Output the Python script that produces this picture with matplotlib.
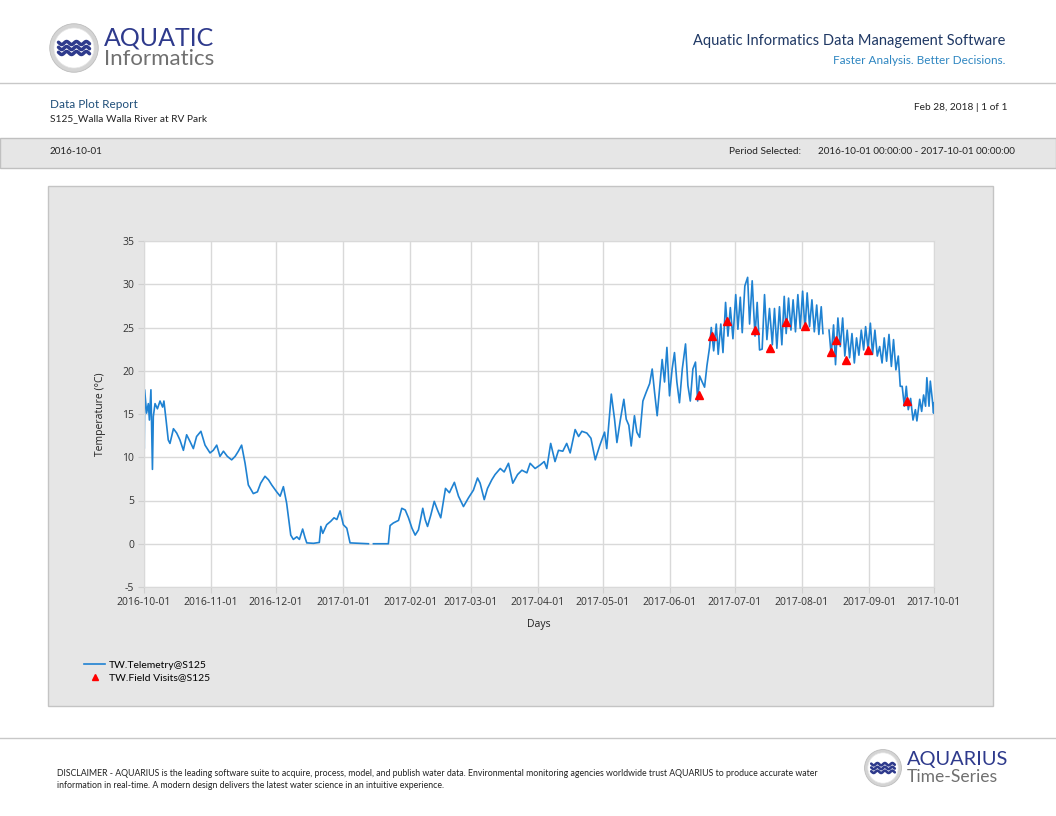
import numpy as np
import matplotlib
matplotlib.use("Agg")
import matplotlib.pyplot as plt
import matplotlib.dates as mdates
from matplotlib.patches import Rectangle, Circle
from matplotlib.lines import Line2D

plt.rcParams['font.family'] = ['Lato', 'DejaVu Sans']
plt.rcParams['axes.unicode_minus'] = False

W, H = 1056, 816
START = '2016-10-01'

# telemetry trace, days after 2016-10-01, three pieces split by data gaps
seg1_day = [0, 0.1, 0.3, 1.2, 2, 2.5, 3.2, 3.9, 4.3, 5.1, 6.2, 7.4, 8.6, 9.2, 10.2, 11.2,
            12.0, 13.6, 15.1, 16.6, 18.2, 19.7, 21.3, 22.8, 24.3, 26.3, 28.2, 30.5, 32,
            33.6, 35.1, 36.7, 38.5, 40.5, 42.1, 43.6, 45.1, 46.7, 48.2, 50.5, 52.4, 53.9,
            55.9, 57.5, 59, 61.3, 62.9, 64.4, 65.9, 67.8, 69, 70.6, 71.8, 73.3, 74.4,
            75.2, 78.3, 81, 81.7, 82.6, 84.4, 86.3, 87.8, 89.1, 90.6, 92.1, 93.7, 95.2,
            103.7]
seg1_temp = [14.2, 11.0, 17.8, 15.1, 16.2, 14.3, 17.8, 8.6, 14.7, 16.2, 15.6, 16.5, 15.8,
             16.5, 14.3, 12.0, 11.6, 13.3, 12.8, 12.0, 10.8, 12.6, 11.8, 11.0, 12.4, 13.0,
             11.4, 10.5, 10.8, 11.4, 10.1, 10.7, 10.1, 9.7, 10.1, 10.7, 11.4, 9.3, 6.8,
             5.8, 6.0, 7.0, 7.8, 7.4, 6.8, 6.0, 5.5, 6.6, 4.7, 1.0, 0.5, 0.8, 0.5, 1.7,
             0.7, 0.1, 0.05, 0.15, 2.0, 1.2, 2.2, 2.6, 3.0, 2.8, 3.8, 2.2, 1.8, 0.1, 0.0]

seg2_day = [106, 112.9, 113.7, 115.2, 117.6, 119.1, 120.7, 122.2, 123.8, 125.3, 126.8,
            128.8, 129.9, 131, 132.5, 134.1, 135.6, 137.1, 139.3, 141.1, 143.4, 145.3,
            147.6, 149.9, 152.2, 154.1, 155.3, 157.2, 158.7, 160.7, 162.2, 164.6, 166.4,
            168.4, 170.4, 172.6, 174.6, 176.9, 178.4, 180.7, 183.0, 184.9, 186.1, 187.9,
            189.9, 191.5, 193.5, 195.3, 196.9, 199.2, 200.8, 202.3, 204.6, 206.5, 208.5,
            210.5, 212.8, 213.8, 215.9, 217.4, 218.5, 220, 221.7, 222.8, 224, 225.1,
            226.6, 227.7, 229, 230.5, 232, 233.6, 234.8, 235.9, 237.1, 238.2, 239.4,
            240.5, 241.6, 242.8, 244, 245.1, 246.2, 247.4, 248.7, 250.2, 251.3, 252.4,
            253.6, 254.8, 255.8, 256.7, 257.9, 259, 260.1, 261.3, 262.1, 263.2, 264.4,
            265.3, 266.5, 267.5, 268.7, 269.8, 270.9, 272.1, 273.4, 274.4, 275.5, 276.4,
            277.6, 278.9, 279.8, 281, 282.3, 283.3, 284.4, 285.6, 286.7, 287.8, 289,
            290.3, 291.3, 292.4, 293.6, 294.7, 295.8, 296.7, 297.8, 298.9, 299.9, 301,
            302.1, 303.2, 304.3, 305.4, 306.4, 307.5, 308.6, 309.7, 310.8, 311.8, 312.9,
            313.7]
seg2_temp = [0, 0, 2.1, 2.4, 2.7, 4.1, 3.9, 3.0, 1.8, 1.0, 1.6, 4.1, 2.8, 2.0, 3.3, 4.9,
             3.9, 3.0, 6.4, 5.9, 7.1, 5.5, 4.3, 5.3, 6.2, 7.6, 7.0, 5.1, 6.4, 7.4, 8.0,
             8.7, 8.3, 9.3, 7.0, 8.0, 8.5, 8.2, 9.3, 8.7, 9.1, 9.5, 8.7, 11.6, 9.5, 10.8,
             10.7, 11.6, 10.5, 13.2, 12.4, 13.0, 12.8, 12.2, 9.7, 11.3, 12.9, 11.0, 17.3,
             14.4, 11.7, 14.2, 16.7, 14.4, 13.7, 11.3, 14.8, 12.9, 12.3, 16.5, 17.5, 18.5,
             20.2, 17.5, 14.8, 17.9, 21.3, 18.7, 22.7, 17.1, 20.2, 22.1, 18.7, 16.3, 20.2,
             23.1, 18.3, 16.5, 20.2, 21.0, 16.5, 19.4, 18.7, 18.1, 20.6, 22.7, 25.0, 22.3,
             25.4, 21.9, 25.4, 22.1, 27.9, 24.0, 27.3, 23.7, 28.8, 24.8, 28.5, 24.4, 29.8,
             30.8, 25.4, 30.4, 24.0, 27.9, 22.4, 22.5, 28.8, 23.6, 27.2, 23.0, 27.2,
             22.6, 27.4, 23.0, 28.6, 24.3, 28.4, 24.7, 28.2, 24.5, 28.8, 24.9, 29.2, 24.7,
             29.0, 25.1, 28.2, 24.5, 27.6, 24.2, 27.4, 24.3]

seg3_day = [316.5, 317.5, 318.6, 319.5, 320.6, 321.7, 322.8, 323.8, 324.9, 326, 327.1,
            328.2, 329.2, 330.3, 331.4, 332.5, 333.4, 334.5, 335.6, 336.6, 337.7, 338.8,
            339.9, 341, 342, 343.1, 344.2, 345.3, 346.3, 347.4, 348.5, 349.4, 350.3,
            351.3, 352.2, 353.1, 354.2, 355.3, 356.4, 357.1, 358.4, 359.3, 360.2, 361.1,
            361.7, 362.7, 363.3, 364.2, 364.8, 365]
seg3_temp = [24.7, 21.8, 25.3, 20.7, 26.1, 22.8, 26.1, 21.7, 24.7, 21.5, 24.3, 20.9, 23.8,
             21.8, 24.7, 22.4, 25.1, 22.6, 25.5, 21.9, 24.7, 21.7, 22.8, 20.9, 23.8, 21.1,
             24.2, 20.5, 23.6, 20.1, 21.7, 18.2, 18.2, 15.9, 18.2, 15.5, 16.8, 14.3, 15.5,
             14.2, 16.7, 15.3, 17.2, 15.9, 19.2, 15.9, 18.8, 16.7, 15.1, 16.3]

# field visit readings
visit_day = [256.2, 262.2, 269.5, 282.4, 289.3, 296.4, 305.5, 317.4, 319.5, 324.3, 334.6, 352.5]
visit_temp = [17.2, 24.0, 25.8, 24.7, 22.6, 25.6, 25.2, 22.2, 23.5, 21.2, 22.4, 16.5]

y_ticks = [-5, 0, 5, 10, 15, 20, 25, 30, 35]

LINE_C = '#1f82d2'
NAVY = '#2e3a8c'
TICK_FONT = ['Open Sans', 'DejaVu Sans']


def fx(x):
    return x / W


def fy(y):
    return 1 - y / H


def draw_logo(fig, cx, cy, r):
    ax = fig.add_axes([fx(cx - r), fy(cy + r), 2 * r / W, 2 * r / H])
    ax.set_xlim(-1, 1)
    ax.set_ylim(-1, 1)
    ax.axis('off')
    ax.add_patch(Circle((0, 0), 0.97, fc='#d4d4d4', ec='#bdbdbd', lw=0.6))
    ax.add_patch(Circle((0, 0), 0.80, fc='white', ec='#e6e6e6', lw=0.5))
    t = np.linspace(-0.62, 0.62, 60)
    for off in (0.2, 0.0, -0.2):
        ax.plot(t, off + 0.06 * np.sin(t * 16), color=NAVY, lw=r / 10, solid_capstyle='round')


fig = plt.figure(figsize=(W / 100, H / 100), dpi=100)

# header
draw_logo(fig, 74, 48, 25)
fig.text(fx(104), fy(38), 'AQUATIC', fontsize=18, color=NAVY, va='center', ha='left')
fig.text(fx(104), fy(59), 'Informatics', fontsize=16, color='#707070', va='center', ha='left')
fig.text(fx(1005), fy(41), 'Aquatic Informatics Data Management Software', fontsize=10.5,
         color='#1f3864', ha='right', va='center')
fig.text(fx(1005), fy(60), 'Faster Analysis. Better Decisions.', fontsize=8.5,
         color='#2e86c1', ha='right', va='center')
fig.add_artist(Line2D([0, 1], [fy(83), fy(83)], color='#c8c8c8', lw=1))

fig.text(fx(50), fy(104), 'Data Plot Report', fontsize=8.5, color='#1f4e79', va='center')
fig.text(fx(50), fy(119), 'S125_Walla Walla River at RV Park', fontsize=7.3, color='#222222', va='center')
fig.text(fx(1007), fy(107), 'Feb 28, 2018 | 1 of 1', fontsize=7.3, color='#222222', ha='right', va='center')

# period band
fig.add_artist(Rectangle((0, fy(168)), 1, 30 / H, fc='#e6e6e6', ec='#c0c0c0', lw=1, zorder=-1))
fig.text(fx(50), fy(152), '2016-10-01', fontsize=7.1, color='#222222', va='center')
fig.text(fx(729), fy(152), 'Period Selected:', fontsize=7.3, color='#222222', va='center')
fig.text(fx(1015), fy(152), '2016-10-01 00:00:00 - 2017-10-01 00:00:00', fontsize=7.1,
         color='#222222', va='center', ha='right')

# chart panel
fig.add_artist(Rectangle((fx(48), fy(706)), 945 / W, 520 / H, fc='#e6e6e6', ec='#c4c4c4',
                         lw=1, zorder=-1))

ax = fig.add_axes([fx(144), fy(587), 790 / W, 346 / H])
ax.set_facecolor('white')
t0 = mdates.datestr2num(START)
l1, = ax.plot(t0 + np.array(seg1_day), seg1_temp, color=LINE_C, lw=1.2)
ax.plot(t0 + np.array(seg2_day), seg2_temp, color=LINE_C, lw=1.2)
ax.plot(t0 + np.array(seg3_day), seg3_temp, color=LINE_C, lw=1.2)
m1, = ax.plot(t0 + np.array(visit_day), visit_temp, ls='none', marker='^', ms=5.5,
              color='#ff0000', zorder=5)

ax.set_xlim(t0, mdates.datestr2num('2017-10-01'))
ax.set_ylim(-5, 35)
ax.set_yticks(y_ticks)
ax.xaxis.set_major_locator(mdates.MonthLocator())
ax.xaxis.set_major_formatter(mdates.DateFormatter('%Y-%m-%d'))
ax.grid(True, color='#d9d9d9', lw=1)
ax.set_axisbelow(True)
for s in ax.spines.values():
    s.set_color('#d9d9d9')
ax.tick_params(length=4, color='#d0d0d0', labelsize=7.5, labelcolor='#333333', pad=3)
for lab in ax.get_xticklabels() + ax.get_yticklabels():
    lab.set_family(TICK_FONT)
ax.set_ylabel('Temperature (°C)', fontsize=7.5, family=TICK_FONT, color='#222222', labelpad=12)
ax.set_xlabel('Days', fontsize=7.5, family=TICK_FONT, color='#222222', labelpad=8)

fig.legend([l1, m1], ['TW.Telemetry@S125', 'TW.Field Visits@S125'],
           loc='upper left', bbox_to_anchor=(fx(75), fy(651)), frameon=False,
           fontsize=7.5, handlelength=2.0, labelspacing=0.35, markerscale=0.7,
           handletextpad=0.35)

# footer
fig.add_artist(Line2D([0, 1], [fy(738), fy(738)], color='#c8c8c8', lw=1))
fig.text(fx(57), fy(773), 'DISCLAIMER - AQUARIUS is the leading software suite to acquire, process, model, '
         'and publish water data. Environmental monitoring agencies worldwide trust AQUARIUS to produce accurate water',
         fontsize=6.3, color='#222222', va='center')
fig.text(fx(57), fy(785), 'information in real-time. A modern design delivers the latest water science in an intuitive experience.',
         fontsize=6.3, color='#222222', va='center')
draw_logo(fig, 883, 768, 19)
fig.text(fx(907), fy(760), 'AQUARIUS', fontsize=14.4, color=NAVY, va='center')
fig.text(fx(907), fy(777), 'Time-Series', fontsize=12.6, color='#707070', va='center')

fig.savefig('out.png', dpi=100)
